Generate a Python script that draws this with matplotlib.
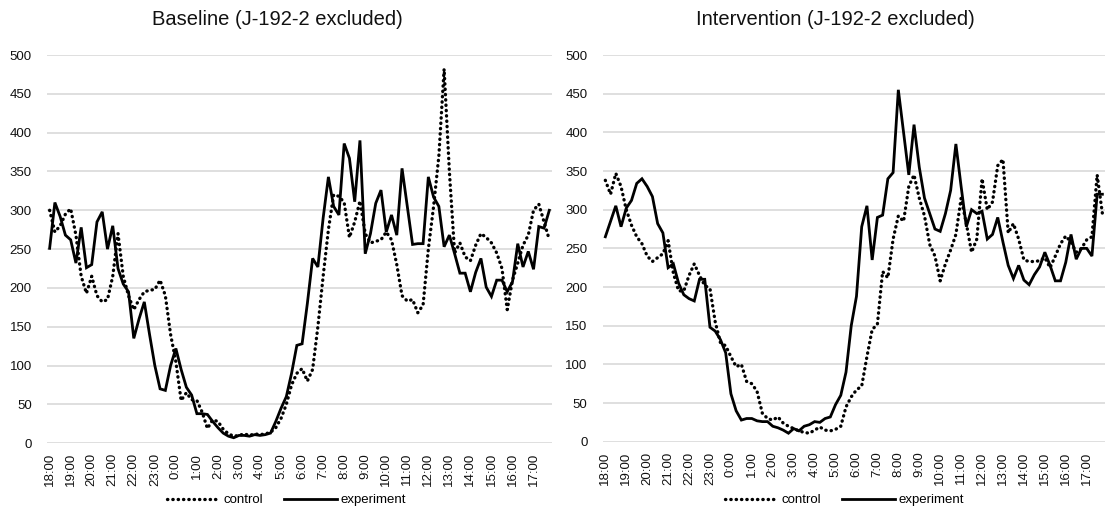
import numpy as np
import matplotlib
matplotlib.use("Agg")
import matplotlib.pyplot as plt

plt.rcParams['font.family'] = ['Liberation Sans', 'DejaVu Sans']

# hourly tick labels (one data point every 15 minutes, 18:00 -> 17:45)
hour_labels = ["18:00", "19:00", "20:00", "21:00", "22:00", "23:00", "0:00", "1:00",
               "2:00", "3:00", "4:00", "5:00", "6:00", "7:00", "8:00", "9:00",
               "10:00", "11:00", "12:00", "13:00", "14:00", "15:00", "16:00", "17:00"]

# Baseline (J-192-2 excluded)
base_control = [300, 272, 280, 295, 302, 268, 215, 193, 215, 190,
                182, 185, 215, 270, 215, 190, 172, 185, 195, 197,
                198, 210, 190, 140, 105, 55, 65, 56, 55, 40,
                19, 30, 28, 18, 12, 9, 10, 12, 10, 12,
                11, 12, 14, 20, 32, 50, 75, 90, 96, 80,
                95, 150, 215, 275, 320, 318, 310, 265, 285, 312,
                270, 258, 260, 262, 272, 262, 230, 190, 183, 185,
                168, 178, 250, 305, 370, 482, 350, 245, 258, 240,
                235, 255, 270, 265, 258, 245, 225, 172, 210, 232,
                255, 268, 300, 308, 285, 262]
base_experiment = [251, 310, 292, 268, 262, 232, 278, 226, 230, 285,
                   298, 250, 280, 225, 205, 195, 135, 160, 182, 140,
                   100, 70, 68, 100, 122, 95, 72, 62, 38, 38,
                   37, 28, 20, 13, 9, 7, 10, 10, 9, 11,
                   10, 11, 13, 28, 45, 60, 90, 126, 128, 180,
                   238, 227, 290, 343, 305, 294, 386, 367, 311, 390,
                   244, 270, 309, 326, 272, 294, 268, 354, 305, 256,
                   257, 257, 343, 317, 305, 253, 268, 244, 219, 219,
                   195, 220, 238, 201, 189, 210, 210, 195, 208, 257,
                   227, 247, 224, 279, 277, 300]

# Intervention (J-192-2 excluded)
int_control = [338, 320, 347, 330, 300, 280, 265, 256, 240, 233,
               238, 243, 260, 218, 195, 195, 215, 230, 215, 202,
               198, 155, 128, 124, 110, 97, 100, 78, 75, 65,
               37, 30, 28, 32, 24, 20, 17, 14, 12, 11,
               15, 19, 15, 14, 16, 20, 45, 58, 67, 72,
               110, 145, 152, 220, 212, 262, 292, 285, 330, 345,
               315, 292, 255, 240, 208, 230, 248, 268, 315, 282,
               245, 262, 340, 300, 310, 357, 365, 270, 282, 262,
               235, 233, 233, 234, 238, 225, 240, 256, 266, 258,
               245, 250, 261, 265, 345, 295]
int_experiment = [265, 285, 305, 278, 302, 312, 334, 340, 330, 317,
                  282, 270, 225, 230, 205, 190, 185, 182, 210, 210,
                  148, 143, 132, 115, 62, 40, 28, 30, 30, 27,
                  26, 26, 20, 18, 15, 11, 17, 14, 20, 22,
                  26, 25, 30, 32, 48, 60, 90, 150, 188, 278,
                  305, 235, 290, 293, 340, 348, 455, 400, 345, 410,
                  355, 315, 295, 275, 272, 295, 325, 385, 330, 278,
                  300, 295, 298, 262, 268, 290, 258, 228, 211, 228,
                  209, 203, 216, 226, 245, 228, 208, 208, 232, 268,
                  236, 250, 250, 240, 320, 320]

panels = [
    ("Baseline (J-192-2 excluded)", base_control, base_experiment,
     [0.0423, 0.151, 0.4545, 0.7436], 0.250),
    ("Intervention (J-192-2 excluded)", int_control, int_experiment,
     [0.5425, 0.1538, 0.4521, 0.7408], 0.752),
]

fig = plt.figure(figsize=(11.11, 5.22), dpi=100)

for title, ctrl, expt, rect, cx in panels:
    ax = fig.add_axes(rect)
    x = np.arange(len(ctrl))
    ax.plot(x, ctrl, color='black', lw=2.4, linestyle=(0, (0.1, 1.5)),
            dash_capstyle='round', label='control')
    ax.plot(x, expt, color='black', lw=2.0, solid_joinstyle='miter',
            label='experiment')
    ax.set_xlim(-0.5, len(ctrl) - 0.5)
    ax.set_ylim(0, 500)
    ax.set_yticks(np.arange(0, 501, 50))
    ax.set_xticks(np.arange(0, len(ctrl), 4))
    ax.set_xticklabels(hour_labels, rotation=90)
    ax.grid(axis='y', color='#d9d9d9', lw=1.2)
    ax.set_axisbelow(True)
    for s in ax.spines.values():
        s.set_visible(False)
    ax.tick_params(axis='both', length=0, labelsize=9.5, colors='#111111')
    ax.tick_params(axis='y', pad=11)
    ax.tick_params(axis='x', pad=7)
    fig.text(cx, 0.962, title, ha='center', va='center', fontsize=14.5,
             color='#111111')
    fig.legend(handles=ax.get_lines(), loc='center', ncol=2,
               bbox_to_anchor=(cx + 0.008, 0.042), frameon=False,
               fontsize=9.5, handlelength=4.0, columnspacing=1.6,
               handletextpad=0.3)

fig.savefig("out.png", dpi=100)
